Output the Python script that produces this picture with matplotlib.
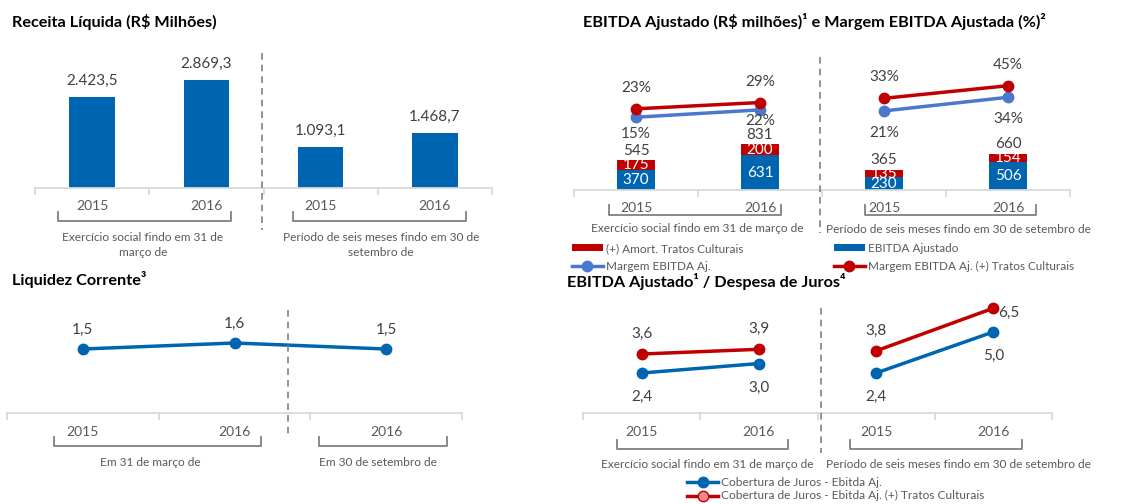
import matplotlib
matplotlib.use('Agg')
import matplotlib.pyplot as plt
from matplotlib.lines import Line2D

plt.rcParams['font.family'] = ['Lato', 'DejaVu Sans']

W, H = 1135, 504

# dados
receita_anos = ['2015', '2016', '2015', '2016']
receita = [2423.5, 2869.3, 1093.1, 1468.7]

ebitda_anos = ['2015', '2016', '2015', '2016']
ebitda_aj = [370, 631, 230, 506]
amort_tratos = [175, 200, 135, 154]
ebitda_total = [545, 831, 365, 660]
margem_aj = [15, 22, 21, 34]
margem_tratos = [23, 29, 33, 45]

liquidez_anos = ['2015', '2016', '2016']
liquidez = [1.5, 1.6, 1.5]

cobertura_anos = ['2015', '2016', '2015', '2016']
cobertura_aj = [2.4, 3.0, 2.4, 5.0]
cobertura_tratos = [3.6, 3.9, 3.8, 6.5]

BLUE = '#0065b1'
RED = '#c00000'
LIGHT_BLUE = '#4a78cc'
TXT = '#595959'
VAL = '#404040'
AXIS = '#d9d9d9'
BRK = '#808080'
GRP_FS = 8.6
TITLE_FS = 11.7

fig = plt.figure(figsize=(W / 100, H / 100), dpi=100)


def px_axes(x0, x1, ytop, ybot):
    return fig.add_axes([x0 / W, 1 - ybot / H, (x1 - x0) / W, (ybot - ytop) / H])


def fig_line(xs, ys, **kw):
    fig.add_artist(Line2D([x / W for x in xs], [1 - y / H for y in ys],
                          transform=fig.transFigure, **kw))


def bracket(x0, x1, ytop, ybot):
    fig_line([x0, x0, x1, x1], [ytop, ybot, ybot, ytop], color=BRK, lw=1.3)


def separator(x, y0, y1):
    fig_line([x, x], [y0, y1], color=BRK, lw=1.2, linestyle=(0, (4, 3)))


def fig_txt(x, y, s, **kw):
    fig.text(x / W, 1 - y / H, s, **kw)


def fmt_br(v, dec=1):
    s = f"{v:,.{dec}f}"
    return s.replace(',', 'X').replace('.', ',').replace('X', '.')


def style_axis(ax, labels, pad=9):
    n = len(labels)
    ax.set_xlim(-0.5, n - 0.5)
    for s in ['left', 'right', 'top']:
        ax.spines[s].set_visible(False)
    ax.spines['bottom'].set_color(AXIS)
    ax.spines['bottom'].set_linewidth(1.3)
    ax.set_yticks([])
    ax.set_xticks(range(n))
    ax.set_xticklabels(labels, fontsize=10, color=TXT)
    ax.tick_params(axis='x', which='major', length=0, pad=pad)
    ax.set_xticks([i - 0.5 for i in range(n + 1)], minor=True)
    ax.tick_params(axis='x', which='minor', length=5, color=AXIS, width=1.3)
    ax.patch.set_visible(False)


def label(ax, x, y, s, dy_px, dx_px=0, color=VAL, size=11):
    ax.annotate(s, (x, y), xytext=(dx_px * 0.72, dy_px * 0.72), textcoords='offset points',
                ha='center', va='center', color=color, fontsize=size)


# ---- Receita Liquida
ax1 = px_axes(35, 492, 50, 188)
ax1.bar(range(4), receita, width=0.4, color=BLUE)
ax1.set_ylim(0, 3675)
style_axis(ax1, receita_anos)
for i, v in enumerate(receita):
    label(ax1, i, v, fmt_br(v), 16)
fig_txt(12, 22, 'Receita Líquida (R$ Milhões)', fontsize=TITLE_FS, fontweight='bold', va='center')
separator(262, 53, 230)
bracket(58, 231, 212, 221)
bracket(293, 466, 212, 221)
fig_txt(143, 245, 'Exercício social findo em 31 de\nmarço de', ha='center', va='center',
        color=TXT, fontsize=GRP_FS, linespacing=1.45)
fig_txt(381, 245, 'Período de seis meses findo em 30 de\nsetembro de', ha='center', va='center',
        color=TXT, fontsize=GRP_FS, linespacing=1.45)

# ---- EBITDA Ajustado
ax2 = px_axes(574, 1070, 50, 190)
b_aj = ax2.bar(range(4), ebitda_aj, width=0.31, color=BLUE, label='EBITDA Ajustado')
b_am = ax2.bar(range(4), amort_tratos, width=0.31, bottom=ebitda_aj, color=RED,
               label='(+) Amort. Tratos Culturais')
ax2.set_ylim(0, 2545)
style_axis(ax2, ebitda_anos)
for i in range(4):
    label(ax2, i, ebitda_aj[i] / 2, str(ebitda_aj[i]), 0, color='white')
    label(ax2, i, ebitda_aj[i] + amort_tratos[i] / 2, str(amort_tratos[i]), 0, color='white')
    label(ax2, i, ebitda_total[i], str(ebitda_total[i]), 9.5)

ax2b = ax2.twinx()
ax2b.set_ylim(-54.3, 79)
ax2b.set_axis_off()
aj_off = [-17, -11, -22, -22]
for grp in [[0, 1], [2, 3]]:
    l_aj, = ax2b.plot(grp, [margem_aj[i] for i in grp], color=LIGHT_BLUE, lw=2.5,
                      marker='o', ms=7.5)
    l_tr, = ax2b.plot(grp, [margem_tratos[i] for i in grp], color=RED, lw=2.5,
                      marker='o', ms=7.5)
    for i in grp:
        label(ax2b, i, margem_tratos[i], f'{margem_tratos[i]}%', 21)
        label(ax2b, i, margem_aj[i], f'{margem_aj[i]}%', aj_off[i])
fig_txt(583, 22, 'EBITDA Ajustado (R$ milhões)¹ e Margem EBITDA Ajustada (%)²',
        fontsize=TITLE_FS, fontweight='bold', va='center')
separator(820, 57, 233)
bracket(609, 781, 205, 215)
bracket(865, 1036, 205, 215)
fig_txt(697, 229, 'Exercício social findo em 31 de março de', ha='center', va='center',
        color=TXT, fontsize=GRP_FS)
fig_txt(958, 230, 'Período de seis meses findo em 30 de setembro de', ha='center', va='center',
        color=TXT, fontsize=GRP_FS)
leg_kw = dict(frameon=False, fontsize=8.5, labelcolor=TXT, handlelength=2.6,
              handleheight=0.55, handletextpad=0.25, labelspacing=0.6, borderpad=0,
              borderaxespad=0, loc='upper left')
fig.legend([b_am, l_aj], ['(+) Amort. Tratos Culturais', 'Margem EBITDA Aj.'],
           bbox_to_anchor=(572 / W, 1 - 243 / H), **leg_kw)
fig.legend([b_aj, l_tr], ['EBITDA Ajustado', 'Margem EBITDA Aj. (+) Tratos Culturais'],
           bbox_to_anchor=(834 / W, 1 - 243 / H), **leg_kw)

# ---- Liquidez Corrente
ax3 = px_axes(7, 462, 300, 413)
ax3.plot(range(3), liquidez, color=BLUE, lw=2.5, marker='o', ms=7.5)
ax3.set_ylim(0.433, 2.317)
style_axis(ax3, liquidez_anos)
for i, v in enumerate(liquidez):
    label(ax3, i, v, fmt_br(v), 19)
fig_txt(12, 280, 'Liquidez Corrente³', fontsize=TITLE_FS, fontweight='bold', va='center')
separator(288, 310, 435)
bracket(54, 261, 437, 446)
bracket(319, 447, 437, 446)
fig_txt(150, 462, 'Em 31 de março de', ha='center', va='center', color=TXT, fontsize=GRP_FS)
fig_txt(378, 462, 'Em 30 de setembro de', ha='center', va='center', color=TXT, fontsize=GRP_FS)

# ---- EBITDA / Despesa de Juros
ax4 = px_axes(583, 1052, 290, 413)
ax4.set_ylim(-0.13, 7.65)
style_axis(ax4, cobertura_anos)
for grp in [[0, 1], [2, 3]]:
    c_aj, = ax4.plot(grp, [cobertura_aj[i] for i in grp], color=BLUE, lw=2.5,
                     marker='o', ms=7.5)
    c_tr, = ax4.plot(grp, [cobertura_tratos[i] for i in grp], color=RED, lw=2.5,
                     marker='o', ms=7.5)
    for i in grp:
        label(ax4, i, cobertura_aj[i], fmt_br(cobertura_aj[i]), -24)
        if i == 3:
            label(ax4, i, cobertura_tratos[i], fmt_br(cobertura_tratos[i]), -5, dx_px=15)
        else:
            label(ax4, i, cobertura_tratos[i], fmt_br(cobertura_tratos[i]), 20)
fig_txt(567, 282, 'EBITDA Ajustado¹ / Despesa de Juros⁴', fontsize=TITLE_FS, fontweight='bold',
        va='center')
separator(821, 308, 453)
bracket(617, 788, 440, 449)
bracket(850, 1022, 440, 449)
fig_txt(707, 464, 'Exercício social findo em 31 de março de', ha='center', va='center',
        color=TXT, fontsize=GRP_FS)
fig_txt(958, 464, 'Período de seis meses findo em 30 de setembro de', ha='center', va='center',
        color=TXT, fontsize=GRP_FS)
# legend: red marker drawn with a lighter centre, as in the original
c_tr_leg = Line2D([], [], color=RED, lw=2.5, marker='o', ms=7.5, markerfacecolor='#f08a8a')
fig.legend([c_aj, c_tr_leg], ['Cobertura de Juros - Ebitda Aj.',
                              'Cobertura de Juros - Ebitda Aj. (+) Tratos Culturais'],
           bbox_to_anchor=(687 / W, 1 - 477 / H),
           **dict(leg_kw, labelspacing=0.2, fontsize=8.6))

fig.savefig('out.png', dpi=100)
